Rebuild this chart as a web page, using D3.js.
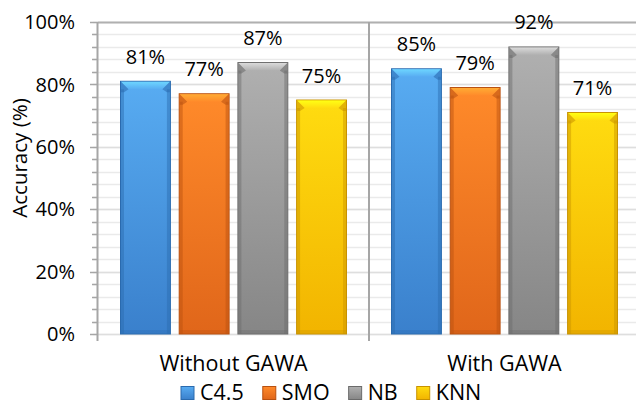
<!DOCTYPE html>
<html>
<head>
<meta charset="utf-8">
<script src="https://cdn.jsdelivr.net/npm/d3@7"></script>
<style>
  body { margin: 0; background: #fff; }
  svg { display: block; }
  text { font-family: "Open Sans", "DejaVu Sans", sans-serif; fill: #000; }
</style>
</head>
<body>
<div class="Canvas"></div>
<script>
const groups = ['Without GAWA', 'With GAWA'];
const series = ['C4.5', 'SMO', 'NB', 'KNN'];
const values = {
  'C4.5': [0.81, 0.85],
  'SMO': [0.77, 0.79],
  'NB': [0.87, 0.92],
  'KNN': [0.75, 0.71],
};
const yTicks = [0, 0.2, 0.4, 0.6, 0.8, 1.0];

// light top, body bottom, edge
const palette = {
  'C4.5': ['#58acf2', '#3a80cc', '#2a6aae'],
  'SMO': ['#ff8a2a', '#e0661a', '#b85010'],
  'NB': ['#b0b0b0', '#868686', '#6a6a6a'],
  'KNN': ['#ffdc10', '#f2b400', '#c89200'],
};

const width = 636;
const height = 404;
const plotTop = 22;
const plotBottom = 334;
const plotLeft = 98;
const plotRight = 640;
const numSize = 20;
const textSize = 21.5;
const bevel = 8;

const svg = d3.select('.Canvas').append('svg').attr('width', width).attr('height', height);
const defs = svg.append('defs');

series.forEach((s, i) => {
  const g = defs.append('linearGradient').attr('id', `body${i}`).attr('x1', 0).attr('y1', 0).attr('x2', 0).attr('y2', 1);
  g.append('stop').attr('offset', '0%').attr('stop-color', palette[s][0]);
  g.append('stop').attr('offset', '100%').attr('stop-color', palette[s][1]);
  const t = defs.append('linearGradient').attr('id', `top${i}`).attr('x1', 0).attr('y1', 0).attr('x2', 0).attr('y2', 1);
  t.append('stop').attr('offset', '0%').attr('stop-color', d3.color(palette[s][0]).brighter(0.6));
  t.append('stop').attr('offset', '100%').attr('stop-color', palette[s][0]);
});

const x0 = d3.scaleBand().domain(groups).range([plotLeft, plotRight]).padding(0);
const x1 = d3.scaleBand().domain(series).range([22.5, x0.bandwidth() - 22.5]).paddingInner(0.15).paddingOuter(0);
const y = d3.scaleLinear().domain([0, 1]).range([plotBottom, plotTop]);

// minor gridlines
const minor = d3.range(0, 1.0001, 0.04);
svg.append('g').selectAll('line').data(minor).enter().append('line')
  .attr('x1', plotLeft - 5).attr('x2', plotRight)
  .attr('y1', (d) => Math.round(y(d)) + 0.5).attr('y2', (d) => Math.round(y(d)) + 0.5)
  .attr('stroke', '#eaeaea').attr('stroke-width', 1.5);
// major gridlines
svg.append('g').selectAll('line').data(yTicks).enter().append('line')
  .attr('x1', plotLeft).attr('x2', plotRight)
  .attr('y1', (d) => Math.round(y(d)) + 0.5).attr('y2', (d) => Math.round(y(d)) + 0.5)
  .attr('stroke', (d) => (d === 1 ? '#b0b0b0' : '#dedede')).attr('stroke-width', (d) => (d === 1 ? 2 : 1.5));

// ticks on y axis
svg.append('g').selectAll('line').data(minor).enter().append('line')
  .attr('x1', (d) => (yTicks.some((t) => Math.abs(t - d) < 1e-6) ? plotLeft - 8 : plotLeft - 6)).attr('x2', plotLeft)
  .attr('y1', (d) => Math.round(y(d)) + 0.5).attr('y2', (d) => Math.round(y(d)) + 0.5)
  .attr('stroke', '#a6a6a6').attr('stroke-width', 1.5);

// category separator + left axis
svg.append('line').attr('x1', x0(groups[1])).attr('x2', x0(groups[1]))
  .attr('y1', plotTop).attr('y2', plotBottom + 7).attr('stroke', '#a6a6a6').attr('stroke-width', 2);
svg.append('line').attr('x1', plotLeft - 0.5).attr('x2', plotLeft - 0.5)
  .attr('y1', plotTop).attr('y2', plotBottom + 7).attr('stroke', '#a6a6a6').attr('stroke-width', 2);

// y tick labels
svg.append('g').selectAll('text').data(yTicks).enter().append('text')
  .attr('x', plotLeft - 23).attr('y', (d) => y(d)).attr('dy', '0.36em')
  .attr('text-anchor', 'end').attr('font-size', numSize)
  .text(d3.format('.0%'));

// axis title
svg.append('text')
  .attr('transform', 'translate(27,158) rotate(-90)')
  .attr('text-anchor', 'middle').attr('font-size', 20.5)
  .text('Accuracy (%)');

// bars
const bars = [];
groups.forEach((g, gi) => {
  series.forEach((s, si) => {
    bars.push({ group: g, series: s, si: si, value: values[s][gi] });
  });
});

const barG = svg.append('g').selectAll('g').data(bars).enter().append('g')
  .attr('transform', (d) => `translate(${x0(d.group) + x1(d.series)},0)`);
const w = x1.bandwidth();

barG.append('rect')
  .attr('x', 0).attr('y', (d) => y(d.value)).attr('width', w).attr('height', (d) => plotBottom - y(d.value))
  .attr('fill', (d) => `url(#body${d.si})`)
  .attr('stroke', (d) => palette[d.series][2]).attr('stroke-width', 1);
// side shading
barG.append('rect')
  .attr('x', 0.5).attr('y', (d) => y(d.value) + bevel).attr('width', 3).attr('height', (d) => plotBottom - y(d.value) - bevel)
  .attr('fill', (d) => palette[d.series][2]).attr('opacity', 0.45);
barG.append('rect')
  .attr('x', w - 3.5).attr('y', (d) => y(d.value) + bevel).attr('width', 3).attr('height', (d) => plotBottom - y(d.value) - bevel)
  .attr('fill', (d) => palette[d.series][2]).attr('opacity', 0.45);
// bottom shading
barG.append('rect')
  .attr('x', 0.5).attr('y', plotBottom - 4).attr('width', w - 1).attr('height', 3.5)
  .attr('fill', (d) => palette[d.series][2]).attr('opacity', 0.3);
// top bevel
barG.append('path')
  .attr('d', (d) => {
    const t = y(d.value);
    return `M0.5,${t + 0.5}L${w - 0.5},${t + 0.5}L${w - bevel},${t + bevel}L${bevel},${t + bevel}Z`;
  })
  .attr('fill', (d) => `url(#top${d.si})`);
barG.append('path')
  .attr('d', (d) => {
    const t = y(d.value);
    return `M0.5,${t + 0.5}L${bevel},${t + bevel}L3.5,${t + bevel + 3}L0.5,${t + bevel + 3}Z M${w - 0.5},${t + 0.5}L${w - bevel},${t + bevel}L${w - 3.5},${t + bevel + 3}L${w - 0.5},${t + bevel + 3}Z`;
  })
  .attr('fill', (d) => palette[d.series][2]).attr('opacity', 0.55);

// value labels
barG.append('text')
  .attr('x', w / 2).attr('y', (d) => y(d.value) - 17.5)
  .attr('text-anchor', 'middle').attr('font-size', numSize)
  .text((d) => d3.format('.0%')(d.value));

// category labels
svg.append('g').selectAll('text').data(groups).enter().append('text')
  .attr('x', (d) => x0(d) + x1.range()[0] + (x1.range()[1] - x1.range()[0]) / 2)
  .attr('y', 371).attr('text-anchor', 'middle').attr('font-size', textSize)
  .text((d) => d);

// legend
const legend = svg.append('g');
const items = legend.selectAll('g').data(series).enter().append('g');
items.append('rect')
  .attr('x', 0).attr('y', 386.5).attr('width', 13).attr('height', 13)
  .attr('fill', (d, i) => `url(#body${i})`).attr('stroke', (d) => palette[d][2]).attr('stroke-width', 1);
items.append('text')
  .attr('x', 19).attr('y', 399.5).attr('font-size', textSize)
  .text((d) => d);
let lx = 0;
items.each(function () {
  d3.select(this).attr('transform', `translate(${lx},0)`);
  lx += 19 + this.querySelector('text').getComputedTextLength() + 19;
});
const legendWidth = lx - 19;
legend.attr('transform', `translate(${Math.round(331 - legendWidth / 2)},0)`);
</script>
</body>
</html>
